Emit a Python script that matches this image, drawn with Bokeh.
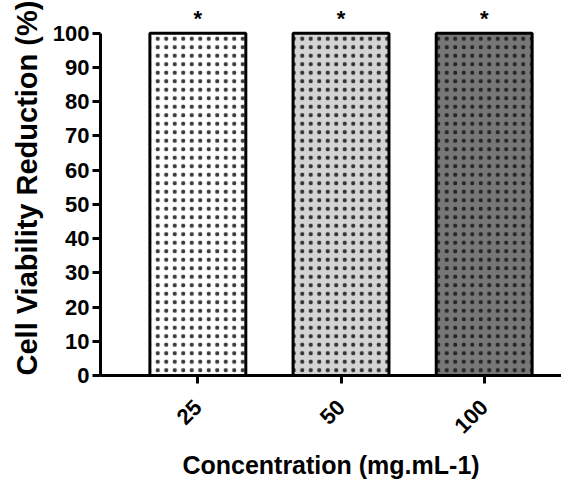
from bokeh.plotting import figure
from bokeh.models import Range1d, FixedTicker, ColumnDataSource, LinearAxis
from bokeh.core.properties import value
from bokeh.embed import file_html
from bokeh.resources import INLINE
import math

categories = ["25", "50", "100"]
reduction = [100, 100, 100]
fills = ["#ffffff", "#d4d4d4", "#777777"]
dot_colors = ["#3a3a3a", "#333333", "#262626"]
y_ticks = [0, 10, 20, 30, 40, 50, 60, 70, 80, 90, 100]
markers = ["*", "*", "*"]

xs = list(range(len(categories)))
src = ColumnDataSource(dict(x=xs, top=reduction, fill=fills, dots=dot_colors,
                            star=markers))

p = figure(width=561, height=483, output_backend="svg", toolbar_location=None,
           x_range=Range1d(-0.68, 2.54), y_range=Range1d(0, 109.6),
           min_border_left=100, min_border_right=0, min_border_top=0,
           min_border_bottom=108, y_axis_location=None)
p.outline_line_color = None
p.xgrid.visible = False
p.ygrid.visible = False

p.vbar(x="x", top="top", width=0.67, bottom=0, source=src,
       fill_color="fill", line_color="black", line_width=3,
       hatch_pattern="dot", hatch_color="dots", hatch_scale=8.5, hatch_weight=0.8)

p.text(x="x", y="top", text="star", source=src, text_align="center",
       text_baseline="bottom", y_offset=-2, text_font=value("Liberation Sans"),
       text_font_size="22px", text_font_style="bold", text_color="black")

yax = LinearAxis(bounds=(0, 100), ticker=FixedTicker(ticks=y_ticks))
yax.axis_label = "Cell Viability Reduction (%)"
p.add_layout(yax, "left")

for ax in [p.xaxis[0], yax]:
    ax.axis_line_width = 3
    ax.axis_line_color = "black"
    ax.major_tick_line_width = 3
    ax.major_tick_line_color = "black"
    ax.major_tick_out = 8
    ax.major_tick_in = 0
    ax.minor_tick_line_color = None
    ax.major_label_text_font = "Liberation Sans"
    ax.major_label_text_font_style = "bold"
    ax.major_label_text_font_size = "22px"
    ax.major_label_text_color = "black"
    ax.axis_label_text_font = "Liberation Sans"
    ax.axis_label_text_font_style = "bold"
    ax.axis_label_text_color = "black"

yax.major_label_standoff = 3
yax.axis_label_text_font_size = "29px"
yax.axis_label_standoff = 7

xax = p.xaxis[0]
xax.ticker = FixedTicker(ticks=xs)
xax.major_label_overrides = {i: c for i, c in enumerate(categories)}
xax.major_label_orientation = math.pi / 4
xax.major_label_standoff = 20
xax.axis_label = "Concentration (mg.mL-1)"
xax.axis_label_text_font_size = "25px"
xax.axis_label_standoff = 8

open("out.html", "w").write(file_html(p, INLINE))
